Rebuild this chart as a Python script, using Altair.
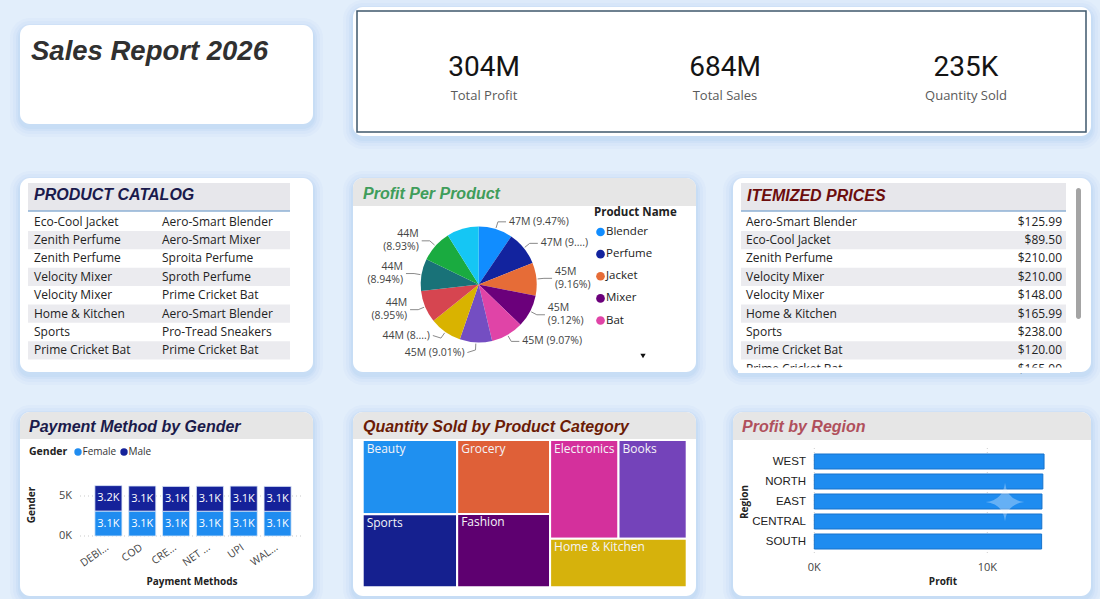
import math
import altair as alt
import pandas as pd

# ---------------- data ----------------
report_title = "Sales Report 2026"
kpi_values = ["304M", "684M", "235K"]
kpi_labels = ["Total Profit", "Total Sales", "Quantity Sold"]

catalog_left = ["Eco-Cool Jacket", "Zenith Perfume", "Zenith Perfume", "Velocity Mixer",
                "Velocity Mixer", "Home & Kitchen", "Sports", "Prime Cricket Bat"]
catalog_right = ["Aero-Smart Blender", "Aero-Smart Mixer", "Sproita Perfume", "Sproth Perfume",
                 "Prime Cricket Bat", "Aero-Smart Blender", "Pro-Tread Sneakers", "Prime Cricket Bat"]

price_items = ["Aero-Smart Blender", "Eco-Cool Jacket", "Zenith Perfume", "Velocity Mixer",
               "Velocity Mixer", "Home & Kitchen", "Sports", "Prime Cricket Bat", "Prime Cricket Bat"]
price_values = [125.99, 89.50, 210.00, 210.00, 148.00, 165.99, 238.00, 120.00, 165.00]

pie_products = ["Blender", "Perfume", "Jacket", "Mixer", "Bat", "Sneakers", "Smartwatch",
                "Headphones", "Lotion", "Novel", "Kettle"]
pie_share = [9.47, 9.45, 9.16, 9.12, 9.07, 9.01, 8.97, 8.95, 8.94, 8.93, 8.93]
pie_labels = ["47M (9.47%)", "47M (9....)", "45M\n(9.16%)", "45M\n(9.12%)", "45M (9.07%)",
              "45M (9.01%)", "44M (8....)", "44M\n(8.95%)", "44M\n(8.94%)", "44M\n(8.93%)", ""]
pie_colors = ["#118DFF", "#12239E", "#E66C37", "#6B007B", "#E044A7", "#744EC2", "#D9B300",
              "#D64550", "#197278", "#1AAB40", "#15C6F4"]
legend_count = 5

pay_methods = ["DEBIT CARD", "COD", "CREDIT CARD", "NET BANKING", "UPI", "WALLET"]
pay_tick_text = ["DEBI...", "COD", "CRE...", "NET ...", "UPI", "WAL..."]
genders = ["Female", "Male"]
gender_colors = ["#1F8CF0", "#15229A"]
female_counts = [3120, 3110, 3090, 3100, 3110, 3090]
male_counts = [3180, 3140, 3110, 3120, 3130, 3110]
pay_ticks = [0, 5000]
pay_tick_labels = ["0K", "5K"]

regions = ["WEST", "NORTH", "EAST", "CENTRAL", "SOUTH"]
region_profit = [13280, 13210, 13160, 13150, 13140]
region_ticks = [0, 10000]
region_tick_labels = ["0K", "10K"]

categories = ["Beauty", "Sports", "Grocery", "Fashion", "Electronics", "Books", "Home & Kitchen"]
category_qty_k = [34.6, 34.0, 33.9, 33.6, 33.3, 33.2, 32.7]
category_colors = ["#1F90F0", "#15208F", "#DF6038", "#5E0070", "#D4309C", "#7443BA", "#D6B20C"]

# ---------------- style ----------------
BG = "#e2eefb"
HEAD = "Liberation Sans"
BODY = "Open Sans"
one = pd.DataFrame({"k": [0]})


def box(x0, y0, x1, y1, **kw):
    return alt.Chart(one).mark_rect(**kw).encode(
        x=alt.value(x0), x2=alt.value(x1), y=alt.value(y0), y2=alt.value(y1))


def words(text, x, y, **kw):
    return alt.Chart(one).mark_text(text=text, **kw).encode(x=alt.value(x), y=alt.value(y))


def hline(x0, x1, y, **kw):
    return alt.Chart(one).mark_rule(**kw).encode(x=alt.value(x0), x2=alt.value(x1), y=alt.value(y))


def card(x0, y0, x1, y1, r=10):
    out = []
    for g, op in [(10, 0.05), (7, 0.07), (4, 0.09), (2, 0.10)]:
        out.append(box(x0 - g, y0 - g + 3, x1 + g, y1 + g + 3, cornerRadius=r + g,
                       color="#8ab6ea", opacity=op))
    out.append(box(x0, y0, x1, y1, cornerRadius=r, color="white"))
    return out


def head(text, x, y, color, size=16):
    return words(text, x, y, font=HEAD, fontSize=size, fontWeight="bold", fontStyle="italic",
                 color=color, align="left", baseline="alphabetic")


layers = []

# ---------------- cards ----------------
for c in [(20, 25, 313, 124), (353, 7, 1091, 136), (20, 178, 313, 372), (353, 178, 696, 372),
          (733, 178, 1091, 372), (20, 412, 313, 596), (353, 412, 696, 596), (733, 412, 1091, 596)]:
    layers += card(*c)

# title card
layers.append(words(report_title, 31, 60, font=HEAD, fontSize=27.5, fontWeight="bold",
                    fontStyle="italic", color="#303030", align="left", baseline="alphabetic"))

# KPI card
layers.append(box(357, 11, 1086, 132, fillOpacity=0, stroke="#3f586c", strokeWidth=1.5))
kpi_df = pd.DataFrame({"label": kpi_labels, "value": kpi_values})
kx = alt.X("label:N", axis=None,
           scale=alt.Scale(type="point", domain=kpi_labels, range=[484, 966], padding=0))
layers.append(alt.Chart(kpi_df).mark_text(font="Roboto", fontSize=28, color="#141414",
                                          baseline="middle").encode(x=kx, y=alt.value(68), text="value:N"))
layers.append(alt.Chart(kpi_df).mark_text(font=BODY, fontSize=13, color="#5a5a5a",
                                          baseline="middle").encode(x=kx, y=alt.value(96), text="label:N"))

# ---------------- product catalog ----------------
TFS = 12
layers.append(box(28, 183, 290, 211, color="#e7e7eb"))
layers.append(hline(28, 290, 211, color="#8eb0d4", strokeWidth=1.5))
layers.append(head("PRODUCT CATALOG", 34, 200, "#1a1a4c"))
cat_df = pd.DataFrame({"row": list(range(len(catalog_left))), "left": catalog_left, "right": catalog_right})
cat_y = alt.Y("row:O", axis=None, scale=alt.Scale(type="band", domain=list(range(len(catalog_left))),
                                                 range=[212.5, 359.5], paddingInner=0, paddingOuter=0))
layers.append(alt.Chart(cat_df).transform_filter("datum.row % 2 == 1").mark_rect(color="#ebebef")
              .encode(y=cat_y, x=alt.value(28), x2=alt.value(290)))
layers.append(alt.Chart(cat_df).mark_text(font=BODY, fontSize=TFS, color="#222", align="left",
                                          baseline="middle").encode(y=cat_y, x=alt.value(34), text="left:N"))
layers.append(alt.Chart(cat_df).mark_text(font=BODY, fontSize=TFS, color="#222", align="left",
                                          baseline="middle").encode(y=cat_y, x=alt.value(162), text="right:N"))

# ---------------- itemized prices ----------------
layers.append(box(741, 183, 1066, 211, color="#e7e7eb"))
layers.append(hline(741, 1066, 211, color="#8eb0d4", strokeWidth=1.5))
layers.append(head("ITEMIZED PRICES", 747, 200.5, "#6c0d0d"))
price_df = pd.DataFrame({"row": list(range(len(price_items))), "item": price_items,
                         "price": [f"${v:,.2f}" for v in price_values]})
pr_y = alt.Y("row:O", axis=None, scale=alt.Scale(type="band", domain=list(range(len(price_items))),
                                                range=[212.5, 377.9], paddingInner=0, paddingOuter=0))
layers.append(alt.Chart(price_df).transform_filter("datum.row % 2 == 1").mark_rect(color="#ebebef")
              .encode(y=pr_y, x=alt.value(741), x2=alt.value(1066)))
layers.append(alt.Chart(price_df).mark_text(font=BODY, fontSize=TFS, color="#222", align="left",
                                            baseline="middle").encode(y=pr_y, x=alt.value(746), text="item:N"))
layers.append(alt.Chart(price_df).mark_text(font=BODY, fontSize=TFS, color="#222", align="right",
                                            baseline="middle").encode(y=pr_y, x=alt.value(1062), text="price:N"))
layers.append(box(738, 367.5, 1070, 373, color="white"))
layers.append(box(1076, 188, 1081, 319, color="#a4a4a4", cornerRadius=2.5))

# ---------------- profit per product (pie) ----------------
layers.append(box(353, 178, 696, 206, color="#e6e6e6", cornerRadiusTopLeft=10, cornerRadiusTopRight=10))
layers.append(head("Profit Per Product", 363, 198.5, "#3f9d5b"))
CX, CY, R = 478.7, 284.5, 58
pie_df = pd.DataFrame({"product": pie_products, "share": pie_share, "color": pie_colors,
                       "idx": list(range(len(pie_products)))})
layers.append(alt.Chart(pie_df).mark_arc(outerRadius=R).encode(
    theta=alt.Theta("share:Q", stack=True),
    color=alt.Color("color:N", scale=None),
    order=alt.Order("idx:Q", sort="ascending"),
    x=alt.value(CX), y=alt.value(CY)))

LH = 13
total = sum(pie_share)
cum = 0.0
labs = []
for i, (p, lab) in enumerate(zip(pie_share, pie_labels)):
    a = (cum + p / 2) / total * 2 * math.pi
    cum += p
    if not lab:
        continue
    s, c = math.sin(a), -math.cos(a)
    side = 1 if s >= 0 else -1
    labs.append({"i": i, "s": s, "c": c, "side": side, "v": 1.13 * c, "n": lab.count("\n") + 1,
                 "text": lab})
# push apart labels on the same side so their blocks do not overlap
for sd in (1, -1):
    grp = sorted([d for d in labs if d["side"] == sd], key=lambda d: d["v"])
    for _ in range(60):
        moved = False
        for a_, b_ in zip(grp, grp[1:]):
            need = ((a_["n"] + b_["n"]) * LH / 2 + 4) / R
            gap = b_["v"] - a_["v"]
            if gap < need - 1e-9:
                d = (need - gap) / 2
                a_["v"] -= d
                b_["v"] += d
                moved = True
        if not moved:
            break
lead_rows, lab_rows = [], []
for d in labs:
    s, c, sd = d["s"], d["c"], d["side"]
    pts = [(1.02 * s, 1.02 * c), (1.13 * s, 1.13 * c), (1.13 * s + sd * 0.14, d["v"])]
    for k, (pu, pv) in enumerate(pts):
        lead_rows.append({"i": d["i"], "k": k, "u": pu, "v": pv})
    lab_rows.append({"i": d["i"], "u": pts[2][0] + sd * 0.05,
                     "v": d["v"] - (d["n"] - 1) * LH / 2 / R,
                     "text": d["text"], "side": "R" if sd > 0 else "L"})
lead_df = pd.DataFrame(lead_rows)
lab_df = pd.DataFrame(lab_rows)
ux = alt.X("u:Q", axis=None, scale=alt.Scale(domain=[-1, 1], range=[CX - R, CX + R], nice=False, zero=False))
vy = alt.Y("v:Q", axis=None, scale=alt.Scale(domain=[-1, 1], range=[CY - R, CY + R], nice=False, zero=False))
layers.append(alt.Chart(lead_df).mark_line(color="#8a8a8a", strokeWidth=1).encode(
    x=ux, y=vy, detail="i:N", order="k:Q"))
layers.append(alt.Chart(lab_df).transform_filter("datum.side == 'R'").mark_text(
    font=BODY, fontSize=10.5, color="#444", align="left", baseline="middle", lineBreak="\n",
    lineHeight=LH).encode(x=ux, y=vy, text="text:N"))
layers.append(alt.Chart(lab_df).transform_filter("datum.side == 'L'").mark_text(
    font=BODY, fontSize=10.5, color="#444", align="right", baseline="middle", lineBreak="\n",
    lineHeight=LH).encode(x=ux, y=vy, text="text:N"))

leg_df = pie_df.iloc[:legend_count]
leg_y = alt.Y("product:N", axis=None, scale=alt.Scale(type="point", domain=pie_products[:legend_count],
                                                     range=[232, 320.5], padding=0))
layers.append(words("Product Name", 594, 213, font=BODY, fontSize=11.5, fontWeight="bold",
                    color="#222", align="left", baseline="middle"))
layers.append(alt.Chart(leg_df).mark_circle(size=75, opacity=1).encode(
    y=leg_y, x=alt.value(600.5), color=alt.Color("color:N", scale=None)))
layers.append(alt.Chart(leg_df).mark_text(font=BODY, fontSize=11.5, color="#222", align="left",
                                          baseline="middle").encode(y=leg_y, x=alt.value(606), text="product:N"))
layers.append(alt.Chart(one).mark_point(shape="triangle-down", filled=True, size=28, color="#111",
                                        opacity=1).encode(x=alt.value(643), y=alt.value(356)))

# ---------------- payment method by gender ----------------
layers.append(box(20, 412, 313, 439, color="#e6e6e6", cornerRadiusTopLeft=10, cornerRadiusTopRight=10))
layers.append(head("Payment Method by Gender", 29, 431.5, "#1b1b4b"))
pay_rows = []
for i, m in enumerate(pay_methods):
    base = 0
    for g, vals in zip(genders, [female_counts, male_counts]):
        v = vals[i]
        pay_rows.append({"method": m, "gender": g, "y0": base, "y1": base + v, "mid": base + v / 2,
                         "text": f"{v / 1000:.1f}K"})
        base += v
pay_df = pd.DataFrame(pay_rows)
px_ = alt.X("method:N", axis=None, scale=alt.Scale(type="band", domain=pay_methods, range=[91.5, 294.5],
                                                  paddingInner=0.2, paddingOuter=0.1))
py_ = alt.Scale(domain=[0, 5000], range=[536, 496], nice=False, zero=False)
tick_df = pd.DataFrame({"t": pay_ticks, "lab": pay_tick_labels})
layers.append(alt.Chart(tick_df).mark_rule(color="#c9c9c9", strokeDash=[1, 3], strokeWidth=1).encode(
    y=alt.Y("t:Q", axis=None, scale=py_), x=alt.value(80), x2=alt.value(302)))
layers.append(alt.Chart(tick_df).mark_text(font=BODY, fontSize=11, color="#444", align="right",
                                           baseline="middle").encode(
    y=alt.Y("t:Q", axis=None, scale=py_), x=alt.value(72), text="lab:N"))
layers.append(alt.Chart(pay_df).mark_bar(stroke="#dce9f8", strokeWidth=0.8).encode(
    x=px_, y=alt.Y("y1:Q", axis=None, scale=py_), y2="y0:Q",
    color=alt.Color("gender:N", scale=alt.Scale(domain=genders, range=gender_colors), legend=None)))
layers.append(alt.Chart(pay_df).mark_text(font=BODY, fontSize=11, color="white", baseline="middle").encode(
    x=px_, y=alt.Y("mid:Q", axis=None, scale=py_), text="text:N"))
ptick_df = pd.DataFrame({"method": pay_methods, "lab": pay_tick_text})
layers.append(alt.Chart(ptick_df).mark_text(font=BODY, fontSize=10.5, color="#444", align="right",
                                            baseline="middle", angle=325, dx=-1).encode(
    x=px_, y=alt.value(546), text="lab:N"))
gleg_df = pd.DataFrame({"gender": genders})
gx = alt.X("gender:N", axis=None, scale=alt.Scale(type="point", domain=genders, range=[78, 124], padding=0))
layers.append(words("Gender", 29, 452, font=BODY, fontSize=10.5, fontWeight="bold", color="#222",
                    align="left", baseline="middle"))
layers.append(alt.Chart(gleg_df).mark_circle(size=55, opacity=1).encode(
    x=gx, y=alt.value(452),
    color=alt.Color("gender:N", scale=alt.Scale(domain=genders, range=gender_colors), legend=None)))
layers.append(alt.Chart(gleg_df).mark_text(font=BODY, fontSize=10, color="#333", align="left",
                                           baseline="middle", dx=4.5).encode(x=gx, y=alt.value(452), text="gender:N"))
layers.append(words("Gender", 32, 505, font=BODY, fontSize=10, fontWeight="bold", color="#222",
                    angle=270, baseline="middle"))
layers.append(words("Payment Methods", 192, 582, font=BODY, fontSize=10, fontWeight="bold", color="#222",
                    baseline="middle"))

# ---------------- quantity sold by product category (treemap) ----------------
layers.append(box(353, 412, 696, 439, color="#e6e6e6", cornerRadiusTopLeft=10, cornerRadiusTopRight=10))
layers.append(head("Quantity Sold by Product Category", 363, 432, "#6b1c06"))
TW, TH = 324.0, 147.3


def squarify(values, x, y, w, h):
    tot = sum(values)
    areas = [v * w * h / tot for v in values]
    rects = []
    i = 0
    while i < len(areas):
        short = min(w, h)

        def worst(row):
            s = sum(row)
            return max(max(short * short * a / (s * s), (s * s) / (short * short * a)) for a in row)

        row = [areas[i]]
        j = i + 1
        while j < len(areas) and worst(row + [areas[j]]) <= worst(row):
            row.append(areas[j])
            j += 1
        s = sum(row)
        if w >= h:
            cw = s / h
            yy = y
            for a in row:
                rects.append((x, yy, x + cw, yy + a / cw))
                yy += a / cw
            x += cw
            w -= cw
        else:
            rh = s / w
            xx = x
            for a in row:
                rects.append((xx, y, xx + a / rh, y + rh))
                xx += a / rh
            y += rh
            h -= rh
        i = j
    return rects


tm = squarify(category_qty_k, 0, 0, TW, TH)
tm_df = pd.DataFrame({"cat": categories, "color": category_colors,
                      "x0": [r[0] for r in tm], "y0": [r[1] for r in tm],
                      "x1": [r[2] for r in tm], "y1": [r[3] for r in tm]})
tx = alt.Scale(domain=[0, TW], range=[362.7, 686.7], nice=False, zero=False)
ty = alt.Scale(domain=[0, TH], range=[440, 587.3], nice=False, zero=False)
layers.append(alt.Chart(tm_df).mark_rect(stroke="white", strokeWidth=2).encode(
    x=alt.X("x0:Q", axis=None, scale=tx), x2="x1:Q",
    y=alt.Y("y0:Q", axis=None, scale=ty), y2="y1:Q",
    color=alt.Color("color:N", scale=None)))
layers.append(alt.Chart(tm_df).mark_text(font=BODY, fontSize=12, color="#f4f4f8", align="left",
                                         baseline="top", dx=4, dy=3.5).encode(
    x=alt.X("x0:Q", axis=None, scale=tx), y=alt.Y("y0:Q", axis=None, scale=ty), text="cat:N"))

# ---------------- profit by region ----------------
layers.append(box(733, 412, 1091, 440, color="#e6e6e6", cornerRadiusTopLeft=10, cornerRadiusTopRight=10))
layers.append(head("Profit by Region", 742, 432, "#b0505c"))
reg_df = pd.DataFrame({"region": regions, "profit": region_profit})
rxs = alt.Scale(domain=[0, 10000], range=[814.3, 987.3], nice=False, zero=False)
ry = alt.Y("region:N", axis=None, scale=alt.Scale(type="band", domain=regions, range=[451.5, 551.5],
                                                 paddingInner=0.25, paddingOuter=0.125))
rtick_df = pd.DataFrame({"t": region_ticks, "lab": region_tick_labels})
layers.append(alt.Chart(rtick_df).mark_rule(color="#cfcfcf", strokeDash=[1, 3]).encode(
    x=alt.X("t:Q", axis=None, scale=rxs), y=alt.value(448), y2=alt.value(553)))
layers.append(alt.Chart(reg_df).mark_bar(color="#1E8CF0", stroke="#1673cc", strokeWidth=1).encode(
    x=alt.X("profit:Q", axis=None, scale=rxs), y=ry))
layers.append(alt.Chart(reg_df).mark_text(font=HEAD, fontSize=11.5, color="#222", align="right",
                                          baseline="middle").encode(y=ry, x=alt.value(806), text="region:N"))
layers.append(alt.Chart(rtick_df).mark_text(font=BODY, fontSize=11, color="#444", baseline="middle").encode(
    x=alt.X("t:Q", axis=None, scale=rxs), y=alt.value(568), text="lab:N"))
layers.append(words("Region", 745, 502, font=BODY, fontSize=10, fontWeight="bold", color="#222",
                    angle=270, baseline="middle"))
layers.append(words("Profit", 943, 582, font=BODY, fontSize=10, fontWeight="bold", color="#222",
                    baseline="middle"))
sparkle = "M0,-1 Q0.1,-0.1 1,0 Q0.1,0.1 0,1 Q-0.1,0.1 -1,0 Q-0.1,-0.1 0,-1 Z"
layers.append(alt.Chart(one).mark_point(shape=sparkle, filled=True, size=1500, color="#eaf3ff",
                                        opacity=0.35, strokeWidth=0).encode(x=alt.value(1005), y=alt.value(502)))

chart = alt.layer(*layers).properties(
    width=1100, height=599, background=BG, padding=0,
    autosize=alt.AutoSizeParams(type="none")
).resolve_scale(
    x="independent", y="independent", color="independent", theta="independent"
).configure_view(strokeWidth=0)

chart.save("out.html", embed_options={"renderer": "svg", "actions": False})
